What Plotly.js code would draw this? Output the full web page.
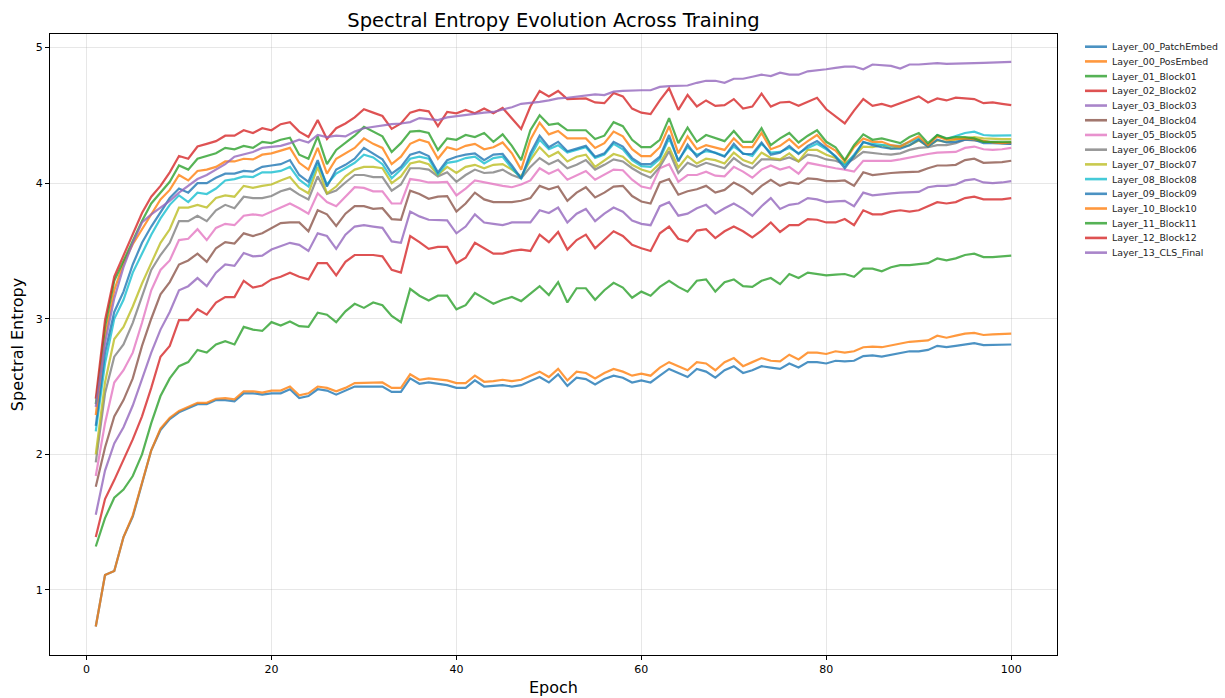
<!DOCTYPE html>
<html>
<head>
<meta charset="utf-8">
<script src="https://cdn.plot.ly/plotly-3.0.1.min.js"></script>
<style>html,body{margin:0;padding:0;background:#fff;}#chart{width:1225px;height:698px;}</style>
</head>
<body>
<div id="chart"></div>
<script>
const epochs = [1,2,3,4,5,6,7,8,9,10,11,12,13,14,15,16,17,18,19,20,21,22,23,24,25,26,27,28,29,30,31,32,33,34,35,36,37,38,39,40,41,42,43,44,45,46,47,48,49,50,51,52,53,54,55,56,57,58,59,60,61,62,63,64,65,66,67,68,69,70,71,72,73,74,75,76,77,78,79,80,81,82,83,84,85,86,87,88,89,90,91,92,93,94,95,96,97,98,99,100];

const layerNames = ["Layer_00_PatchEmbed","Layer_00_PosEmbed","Layer_01_Block01","Layer_02_Block02","Layer_03_Block03","Layer_04_Block04","Layer_05_Block05","Layer_06_Block06","Layer_07_Block07","Layer_08_Block08","Layer_09_Block09","Layer_10_Block10","Layer_11_Block11","Layer_12_Block12","Layer_13_CLS_Final"];

const colors = ["#1f77b4","#ff7f0e","#2ca02c","#d62728","#9467bd","#8c564b","#e377c2","#7f7f7f","#bcbd22","#17becf","#1f77b4","#ff7f0e","#2ca02c","#d62728","#9467bd"];

const patchEmbed = [0.73,1.11,1.14,1.39,1.54,1.79,2.03,2.18,2.26,2.31,2.34,2.37,2.37,2.40,2.40,2.39,2.45,2.45,2.44,2.45,2.45,2.48,2.415,2.43,2.48,2.47,2.44,2.47,2.50,2.50,2.50,2.50,2.46,2.46,2.56,2.52,2.53,2.52,2.51,2.49,2.49,2.545,2.50,2.505,2.51,2.50,2.51,2.54,2.57,2.53,2.59,2.505,2.565,2.555,2.515,2.555,2.58,2.565,2.53,2.545,2.53,2.58,2.63,2.60,2.57,2.63,2.61,2.565,2.62,2.65,2.60,2.62,2.65,2.64,2.63,2.67,2.64,2.68,2.68,2.67,2.69,2.685,2.69,2.725,2.73,2.72,2.735,2.75,2.76,2.76,2.77,2.80,2.79,2.80,2.81,2.82,2.805,2.805,2.81,2.81];

const posEmbed = [0.73,1.11,1.14,1.39,1.55,1.80,2.03,2.19,2.27,2.32,2.35,2.38,2.38,2.41,2.415,2.405,2.465,2.465,2.455,2.47,2.47,2.50,2.435,2.45,2.50,2.49,2.465,2.49,2.525,2.525,2.53,2.53,2.49,2.49,2.59,2.55,2.56,2.55,2.545,2.525,2.525,2.58,2.535,2.54,2.55,2.54,2.55,2.58,2.61,2.57,2.63,2.545,2.61,2.60,2.56,2.60,2.63,2.61,2.58,2.595,2.58,2.64,2.68,2.65,2.62,2.68,2.67,2.62,2.68,2.71,2.65,2.68,2.71,2.69,2.685,2.735,2.70,2.75,2.75,2.74,2.76,2.75,2.76,2.79,2.795,2.79,2.805,2.82,2.83,2.835,2.84,2.875,2.86,2.875,2.89,2.895,2.88,2.885,2.885,2.89];

const block01 = [1.32,1.53,1.68,1.74,1.84,2.0,2.23,2.43,2.56,2.65,2.68,2.77,2.75,2.81,2.835,2.81,2.94,2.92,2.91,2.975,2.95,2.98,2.945,2.94,3.045,3.03,2.975,3.055,3.11,3.08,3.12,3.10,3.02,2.975,3.22,3.17,3.135,3.17,3.17,3.07,3.10,3.19,3.15,3.11,3.14,3.16,3.13,3.185,3.24,3.175,3.27,3.12,3.225,3.225,3.14,3.21,3.265,3.23,3.155,3.20,3.17,3.235,3.28,3.235,3.20,3.28,3.29,3.20,3.27,3.29,3.24,3.235,3.28,3.30,3.255,3.33,3.30,3.34,3.33,3.32,3.325,3.33,3.31,3.37,3.37,3.35,3.38,3.395,3.395,3.40,3.41,3.445,3.43,3.445,3.47,3.48,3.455,3.455,3.46,3.465];

const block02 = [1.39,1.67,1.81,1.96,2.11,2.28,2.49,2.72,2.80,2.99,2.99,3.07,3.03,3.12,3.16,3.16,3.28,3.23,3.245,3.29,3.31,3.34,3.31,3.29,3.41,3.41,3.32,3.42,3.47,3.47,3.47,3.46,3.36,3.34,3.61,3.565,3.515,3.53,3.53,3.41,3.45,3.56,3.52,3.48,3.48,3.50,3.51,3.50,3.62,3.565,3.64,3.51,3.58,3.62,3.52,3.58,3.645,3.61,3.545,3.52,3.50,3.63,3.68,3.59,3.57,3.65,3.66,3.595,3.645,3.68,3.645,3.60,3.65,3.71,3.64,3.69,3.69,3.735,3.73,3.71,3.71,3.735,3.69,3.80,3.77,3.77,3.79,3.80,3.79,3.80,3.83,3.86,3.85,3.86,3.89,3.90,3.88,3.88,3.88,3.89];

const block03 = [1.555,1.88,2.08,2.20,2.36,2.55,2.75,2.92,3.05,3.21,3.24,3.30,3.24,3.34,3.40,3.39,3.485,3.46,3.465,3.51,3.535,3.56,3.545,3.50,3.63,3.61,3.515,3.62,3.68,3.69,3.68,3.67,3.57,3.56,3.79,3.755,3.73,3.725,3.725,3.63,3.68,3.77,3.71,3.70,3.69,3.71,3.71,3.71,3.80,3.78,3.82,3.71,3.775,3.81,3.72,3.775,3.82,3.79,3.725,3.70,3.69,3.83,3.86,3.76,3.775,3.815,3.84,3.775,3.815,3.85,3.81,3.76,3.83,3.89,3.81,3.84,3.85,3.89,3.88,3.86,3.865,3.87,3.83,3.93,3.91,3.92,3.925,3.93,3.93,3.935,3.97,3.98,3.98,3.99,4.02,4.03,4.005,4.00,4.005,4.015];

const block04 = [1.76,2.05,2.28,2.40,2.56,2.80,3.0,3.18,3.27,3.40,3.43,3.48,3.42,3.52,3.565,3.555,3.63,3.61,3.63,3.67,3.705,3.71,3.71,3.645,3.80,3.77,3.685,3.775,3.83,3.83,3.81,3.815,3.735,3.73,3.945,3.92,3.885,3.90,3.905,3.79,3.85,3.93,3.88,3.86,3.86,3.86,3.87,3.89,3.98,3.955,3.975,3.87,3.93,3.97,3.895,3.93,3.975,3.98,3.905,3.865,3.85,4.005,4.03,3.915,3.94,3.955,3.98,3.93,3.95,4.005,3.97,3.92,3.98,4.025,3.98,4.005,3.995,4.035,4.03,4.015,4.015,4.02,3.98,4.08,4.06,4.07,4.075,4.08,4.085,4.085,4.11,4.13,4.13,4.135,4.17,4.18,4.15,4.15,4.155,4.165];

const block05 = [1.84,2.23,2.53,2.62,2.75,2.97,3.21,3.36,3.43,3.58,3.59,3.66,3.58,3.67,3.70,3.69,3.76,3.77,3.76,3.79,3.825,3.85,3.815,3.775,3.925,3.86,3.83,3.90,3.97,3.965,3.94,3.94,3.85,3.85,4.03,4.02,4.005,4.005,4.01,3.91,3.96,4.02,4.005,3.99,3.98,3.97,3.99,4.02,4.11,4.07,4.10,4.025,4.055,4.09,4.025,4.06,4.10,4.095,4.025,3.975,3.96,4.11,4.14,4.01,4.06,4.06,4.085,4.055,4.05,4.12,4.085,4.04,4.10,4.13,4.10,4.12,4.07,4.15,4.135,4.12,4.11,4.10,4.085,4.165,4.165,4.16,4.165,4.175,4.19,4.20,4.215,4.225,4.225,4.23,4.26,4.27,4.25,4.245,4.25,4.26];

const block06 = [1.94,2.45,2.72,2.81,2.97,3.16,3.36,3.47,3.56,3.72,3.72,3.76,3.72,3.80,3.84,3.815,3.90,3.89,3.89,3.905,3.94,3.96,3.915,3.88,4.05,3.92,3.945,4.005,4.06,4.06,4.045,4.045,3.945,3.99,4.11,4.11,4.10,4.05,4.08,4.01,4.06,4.10,4.075,4.08,4.10,4.06,4.035,4.12,4.185,4.14,4.17,4.11,4.135,4.17,4.10,4.135,4.175,4.16,4.11,4.07,4.04,4.12,4.235,4.075,4.15,4.12,4.15,4.13,4.11,4.185,4.135,4.11,4.175,4.175,4.17,4.19,4.16,4.21,4.20,4.175,4.165,4.14,4.18,4.23,4.22,4.215,4.21,4.22,4.245,4.26,4.265,4.28,4.28,4.295,4.32,4.315,4.305,4.30,4.295,4.29];

const block07 = [2.0,2.53,2.85,2.94,3.09,3.26,3.41,3.56,3.66,3.82,3.82,3.84,3.82,3.89,3.91,3.90,3.98,3.965,3.98,3.99,4.02,4.045,3.965,3.925,4.12,3.925,3.975,4.05,4.10,4.12,4.12,4.11,4.0,4.05,4.145,4.16,4.14,4.06,4.12,4.075,4.12,4.135,4.11,4.135,4.14,4.10,4.05,4.17,4.265,4.195,4.23,4.16,4.195,4.21,4.12,4.17,4.215,4.195,4.135,4.10,4.08,4.145,4.265,4.115,4.20,4.145,4.18,4.17,4.145,4.225,4.17,4.145,4.225,4.185,4.175,4.22,4.16,4.245,4.245,4.21,4.185,4.145,4.20,4.27,4.265,4.28,4.255,4.265,4.28,4.315,4.27,4.315,4.305,4.32,4.33,4.34,4.33,4.325,4.325,4.325];

const block08 = [2.17,2.67,3.0,3.14,3.34,3.48,3.62,3.74,3.84,3.91,3.86,3.93,3.92,3.96,4.02,4.03,4.05,4.045,4.08,4.08,4.09,4.12,4.025,3.975,4.15,3.99,4.07,4.11,4.15,4.21,4.19,4.14,4.035,4.10,4.18,4.195,4.18,4.065,4.15,4.16,4.185,4.195,4.145,4.185,4.195,4.11,4.035,4.195,4.32,4.25,4.28,4.225,4.245,4.265,4.185,4.21,4.29,4.25,4.17,4.125,4.12,4.18,4.33,4.17,4.265,4.21,4.235,4.225,4.20,4.27,4.22,4.20,4.29,4.225,4.23,4.26,4.22,4.26,4.29,4.25,4.20,4.13,4.21,4.30,4.29,4.28,4.275,4.275,4.30,4.33,4.28,4.355,4.325,4.35,4.37,4.38,4.355,4.35,4.35,4.353];

const block09 = [2.21,2.75,3.05,3.20,3.40,3.56,3.68,3.79,3.89,3.96,3.93,4.00,4.00,4.04,4.07,4.07,4.09,4.085,4.12,4.13,4.14,4.17,4.06,4.01,4.17,3.975,4.10,4.135,4.18,4.26,4.22,4.175,4.07,4.12,4.21,4.23,4.20,4.08,4.17,4.195,4.21,4.22,4.17,4.21,4.215,4.13,4.035,4.22,4.35,4.265,4.305,4.235,4.255,4.275,4.195,4.22,4.305,4.27,4.185,4.14,4.14,4.195,4.355,4.16,4.285,4.195,4.25,4.22,4.195,4.29,4.215,4.215,4.30,4.21,4.225,4.275,4.215,4.275,4.31,4.26,4.195,4.11,4.20,4.305,4.28,4.265,4.255,4.255,4.28,4.32,4.27,4.32,4.30,4.305,4.32,4.32,4.295,4.295,4.29,4.29];

const block10 = [2.29,2.87,3.21,3.41,3.55,3.66,3.78,3.88,3.95,4.06,4.02,4.09,4.10,4.12,4.16,4.16,4.18,4.175,4.21,4.22,4.24,4.26,4.15,4.10,4.26,4.07,4.18,4.22,4.26,4.33,4.29,4.26,4.14,4.195,4.29,4.32,4.30,4.18,4.265,4.245,4.275,4.29,4.25,4.265,4.30,4.22,4.10,4.32,4.445,4.36,4.385,4.33,4.33,4.33,4.26,4.295,4.38,4.345,4.25,4.20,4.20,4.265,4.42,4.22,4.345,4.25,4.28,4.265,4.245,4.33,4.265,4.265,4.37,4.25,4.275,4.325,4.26,4.31,4.355,4.28,4.24,4.16,4.265,4.33,4.305,4.305,4.28,4.27,4.305,4.345,4.28,4.345,4.32,4.325,4.33,4.325,4.31,4.30,4.295,4.30];

const block11 = [2.37,2.94,3.28,3.43,3.58,3.72,3.85,3.93,4.01,4.13,4.10,4.18,4.20,4.22,4.26,4.25,4.275,4.26,4.305,4.295,4.32,4.335,4.21,4.18,4.345,4.14,4.245,4.295,4.35,4.415,4.38,4.345,4.23,4.295,4.38,4.385,4.37,4.245,4.33,4.32,4.355,4.34,4.37,4.305,4.36,4.275,4.17,4.39,4.50,4.43,4.44,4.39,4.39,4.39,4.325,4.35,4.45,4.42,4.32,4.265,4.265,4.32,4.48,4.295,4.41,4.305,4.355,4.33,4.31,4.385,4.305,4.305,4.405,4.28,4.33,4.37,4.30,4.35,4.39,4.305,4.265,4.17,4.28,4.36,4.32,4.33,4.31,4.295,4.34,4.37,4.295,4.355,4.33,4.34,4.34,4.33,4.305,4.305,4.305,4.305];

const block12 = [2.41,2.99,3.31,3.47,3.63,3.78,3.90,3.98,4.08,4.20,4.18,4.27,4.29,4.31,4.35,4.35,4.39,4.37,4.405,4.39,4.435,4.45,4.38,4.34,4.465,4.325,4.405,4.44,4.485,4.545,4.52,4.495,4.40,4.44,4.52,4.54,4.53,4.42,4.525,4.515,4.54,4.515,4.55,4.515,4.555,4.48,4.40,4.565,4.68,4.64,4.68,4.62,4.625,4.625,4.595,4.59,4.665,4.64,4.55,4.52,4.51,4.61,4.70,4.54,4.65,4.565,4.61,4.57,4.575,4.62,4.55,4.565,4.66,4.565,4.595,4.60,4.57,4.60,4.63,4.545,4.495,4.44,4.535,4.62,4.57,4.585,4.565,4.59,4.61,4.64,4.595,4.625,4.61,4.63,4.625,4.62,4.59,4.595,4.585,4.575];

const clsFinal = [2.35,2.82,3.15,3.38,3.56,3.71,3.77,3.82,3.87,3.93,3.98,4.03,4.06,4.10,4.14,4.195,4.21,4.23,4.26,4.265,4.275,4.295,4.32,4.30,4.355,4.34,4.35,4.345,4.38,4.405,4.415,4.43,4.435,4.44,4.45,4.48,4.47,4.465,4.485,4.495,4.50,4.51,4.52,4.525,4.54,4.56,4.585,4.59,4.60,4.61,4.625,4.63,4.64,4.645,4.655,4.65,4.675,4.68,4.685,4.685,4.685,4.71,4.715,4.72,4.72,4.74,4.755,4.755,4.74,4.77,4.77,4.785,4.80,4.79,4.815,4.80,4.80,4.825,4.83,4.84,4.85,4.86,4.86,4.84,4.875,4.87,4.865,4.845,4.875,4.875,4.88,4.885,4.88,4.88,4.885,4.885,4.887,4.89,4.89,4.895];

const allSeries = [patchEmbed,posEmbed,block01,block02,block03,block04,block05,block06,block07,block08,block09,block10,block11,block12,clsFinal];

const xTicks = [0,20,40,60,80,100];
const yTicks = [1,2,3,4,5];

const font = "DejaVu Sans, Verdana, sans-serif";
const W = 1225, H = 698;
const M = {l: 50, r: 168, t: 34, b: 43};
const plotW = W - M.l - M.r, plotH = H - M.t - M.b;

const traces = allSeries.map((vals, i) => ({
  x: epochs,
  y: vals,
  type: 'scatter',
  mode: 'lines',
  name: layerNames[i],
  opacity: 0.8,
  line: {color: colors[i], width: 2.2},
  showlegend: false
}));

// Legend drawn outside the axes (matplotlib-style compact spacing)
const legTop = 46.7, legStep = 14.71, legLineX0 = 1085, legLineX1 = 1107, legTextX = 1110;
const toPx = px => (px - M.l) / plotW;
const toPy = py => (H - M.b - py) / plotH;
const shapes = [];
const annotations = [];
layerNames.forEach((name, i) => {
  const py = legTop + legStep * i;
  shapes.push({
    type: 'line', xref: 'paper', yref: 'paper',
    x0: toPx(legLineX0), x1: toPx(legLineX1), y0: toPy(py), y1: toPy(py),
    line: {color: colors[i], width: 2.6}, opacity: 0.8
  });
  annotations.push({
    xref: 'paper', yref: 'paper', x: toPx(legTextX), y: toPy(py),
    xanchor: 'left', yanchor: 'middle', showarrow: false,
    text: name, font: {family: font, size: 9.4, color: '#222'}
  });
});

const layout = {
  width: W,
  height: H,
  margin: M,
  paper_bgcolor: '#fff',
  plot_bgcolor: '#fff',
  font: {family: font, color: '#000', size: 11},
  title: {
    text: 'Spectral Entropy Evolution Across Training',
    font: {family: font, size: 19.5, color: '#000'},
    x: 0.5, xref: 'paper', xanchor: 'center',
    y: 1 - 20/698, yref: 'container', yanchor: 'middle'
  },
  xaxis: {
    title: {text: 'Epoch', font: {family: font, size: 16, color: '#000'}, standoff: 6},
    range: [-3.95, 104.95],
    tickvals: xTicks,
    ticktext: xTicks.map(String),
    showgrid: true, gridcolor: 'rgba(176,176,176,0.3)', gridwidth: 1,
    zeroline: false,
    showline: true, linecolor: '#000', linewidth: 1, mirror: true,
    ticks: 'outside', ticklen: 4, tickcolor: '#000', tickwidth: 1,
    tickfont: {family: font, size: 11, color: '#000'}
  },
  yaxis: {
    title: {text: 'Spectral Entropy', font: {family: font, size: 16, color: '#000'}, standoff: 8},
    range: [0.52, 5.10],
    tickvals: yTicks,
    ticktext: yTicks.map(String),
    showgrid: true, gridcolor: 'rgba(176,176,176,0.3)', gridwidth: 1,
    zeroline: false,
    showline: true, linecolor: '#000', linewidth: 1, mirror: true,
    ticks: 'outside', ticklen: 4, tickcolor: '#000', tickwidth: 1,
    tickfont: {family: font, size: 11, color: '#000'}
  },
  showlegend: false,
  shapes: shapes,
  annotations: annotations
};

Plotly.newPlot('chart', traces, layout, {displayModeBar: false, staticPlot: true});
</script>
</body>
</html>
